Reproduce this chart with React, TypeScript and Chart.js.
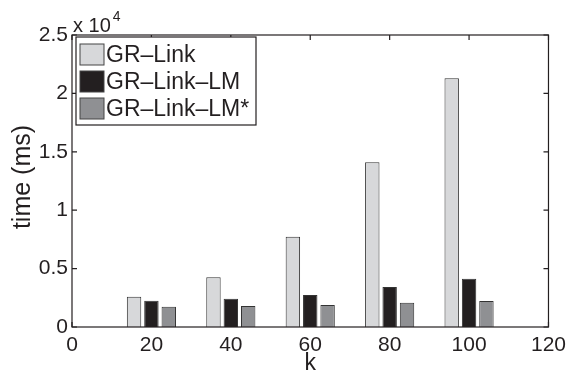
import React, { useEffect, useRef } from 'react';
import { Chart, registerables } from 'chart.js';

Chart.register(...registerables);

const kValues = [20, 40, 60, 80, 100];
const grLink = [2600, 4250, 7730, 14100, 21300];
const grLinkLM = [2250, 2420, 2740, 3420, 4140];
const grLinkLMStar = [1740, 1800, 1880, 2080, 2230];
const seriesLabels = ['GR–Link', 'GR–Link–LM', 'GR–Link–LM*'];
const seriesColors = ['#d7d8da', '#231f20', '#8f9093'];
const xTickValues = [0, 20, 40, 60, 80, 100, 120];
const yTickValues = [0, 5000, 10000, 15000, 20000, 25000];
const xTitle = 'k';
const yTitle = 'time (ms)';

const FONT = '"Liberation Sans", Arial, Helvetica, sans-serif';
const INK = '#231f20';

const framePlugin = {
  id: 'matlabFrame',
  afterDraw(chart: any) {
    const { ctx, chartArea: a, scales } = chart;
    const xs = scales.x;
    const ys = scales.y;
    ctx.save();
    ctx.strokeStyle = INK;
    ctx.lineWidth = 1.2;
    ctx.strokeRect(a.left, a.top, a.right - a.left, a.bottom - a.top);
    const tl = 5;
    ctx.beginPath();
    xTickValues.forEach((v) => {
      const px = xs.getPixelForValue(v);
      ctx.moveTo(px, a.bottom);
      ctx.lineTo(px, a.bottom - tl);
      ctx.moveTo(px, a.top);
      ctx.lineTo(px, a.top + tl);
    });
    yTickValues.forEach((v) => {
      const py = ys.getPixelForValue(v);
      ctx.moveTo(a.left, py);
      ctx.lineTo(a.left + tl, py);
      ctx.moveTo(a.right, py);
      ctx.lineTo(a.right - tl, py);
    });
    ctx.stroke();

    // exponent label
    ctx.fillStyle = INK;
    ctx.textBaseline = 'alphabetic';
    ctx.textAlign = 'left';
    ctx.font = `20px ${FONT}`;
    ctx.fillText('x 10', a.left + 1, a.top - 3);
    const w = ctx.measureText('x 10').width;
    ctx.font = `14px ${FONT}`;
    ctx.fillText('4', a.left + 3 + w, a.top - 14);

    // axis titles
    ctx.font = `23px ${FONT}`;
    ctx.textAlign = 'center';
    ctx.textBaseline = 'middle';
    ctx.fillText(xTitle, (a.left + a.right) / 2, 364);
    ctx.save();
    ctx.translate(23, 177);
    ctx.rotate(-Math.PI / 2);
    ctx.font = `25px ${FONT}`;
    ctx.fillText(yTitle, 0, 0);
    ctx.restore();

    // legend
    const lx = a.left + 4;
    const ly = a.top + 2;
    const lw = 180;
    const lh = 88;
    ctx.fillStyle = '#ffffff';
    ctx.fillRect(lx, ly, lw, lh);
    ctx.strokeStyle = INK;
    ctx.lineWidth = 1.2;
    ctx.strokeRect(lx, ly, lw, lh);
    ctx.font = `23px ${FONT}`;
    ctx.textAlign = 'left';
    ctx.textBaseline = 'middle';
    chart.data.datasets.forEach((ds: any, i: number) => {
      const sy = ly + 7 + i * 27;
      ctx.fillStyle = ds.backgroundColor;
      ctx.fillRect(lx + 4, sy, 24, 21);
      ctx.strokeStyle = '#444';
      ctx.lineWidth = 1;
      ctx.strokeRect(lx + 4, sy, 24, 21);
      ctx.fillStyle = INK;
      ctx.fillText(ds.label, lx + 30, sy + 12);
    });
    ctx.restore();
  },
};

export default function App() {
  const ref = useRef<HTMLCanvasElement>(null);
  useEffect(() => {
    document.body.style.margin = '0';
    const series = [grLink, grLinkLM, grLinkLMStar];
    const chart = new Chart(ref.current as HTMLCanvasElement, {
      type: 'bar',
      data: {
        datasets: series.map((vals, i) => ({
          label: seriesLabels[i],
          data: kValues.map((k, j) => ({ x: k, y: vals[j] })),
          backgroundColor: seriesColors[i],
          borderColor: '#333',
          borderWidth: 1,
          categoryPercentage: 0.656,
          barPercentage: 0.83,
        })),
      },
      options: {
        animation: false,
        responsive: false,
        devicePixelRatio: 1,
        layout: { padding: { top: 35, right: 20, left: 0, bottom: 0 } },
        plugins: { legend: { display: false }, tooltip: { enabled: false } },
        scales: {
          x: {
            type: 'linear',
            offset: false,
            min: 0,
            max: 120,
            grid: { display: false, offset: false, drawTicks: false },
            border: { display: false },
            ticks: {
              stepSize: 20,
              autoSkip: false,
              maxRotation: 0,
              padding: 6,
              color: INK,
              font: { family: FONT, size: 21 },
            },
            afterFit: (s: any) => { s.height = 48; },
          },
          y: {
            min: 0,
            max: 25000,
            grid: { display: false, drawTicks: false },
            border: { display: false },
            ticks: {
              stepSize: 5000,
              padding: 4,
              color: INK,
              font: { family: FONT, size: 21 },
              callback: (v: any) => String(Number(v) / 10000),
            },
            afterFit: (s: any) => { s.width = 72; },
          },
        },
      },
      plugins: [framePlugin],
    } as any);
    return () => chart.destroy();
  }, []);
  return (
    <div style={{ width: 572, height: 375, background: '#fff' }}>
      <canvas ref={ref} width={572} height={375} />
    </div>
  );
}
